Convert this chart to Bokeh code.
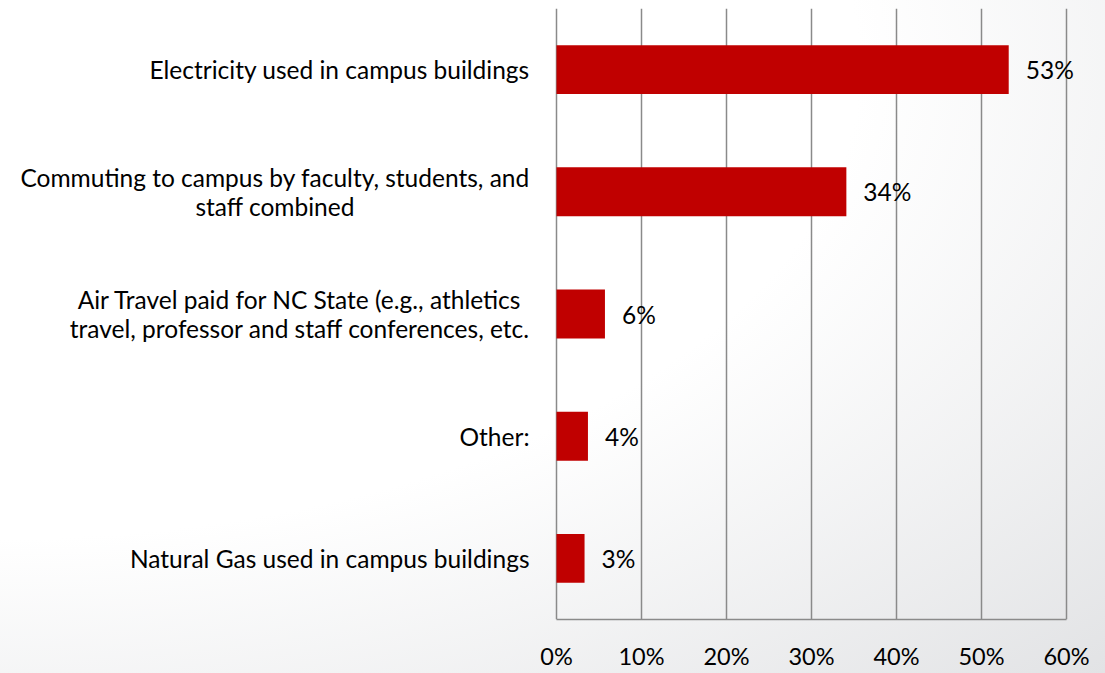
import glob
from bokeh.plotting import figure
from bokeh.models import ColumnDataSource, FactorRange, Range1d, FixedTicker
from bokeh.core.properties import value
from bokeh.embed import file_html
from bokeh.resources import INLINE

categories = [
    "Electricity used in campus buildings",
    "Commuting to campus by faculty, students, and\nstaff combined",
    "Air Travel paid for NC State (e.g., athletics\ntravel, professor and staff conferences, etc.",
    "Other:",
    "Natural Gas used in campus buildings",
]
values = [53.2, 34.1, 5.7, 3.7, 3.3]
value_labels = ["53%", "34%", "6%", "4%", "3%"]
x_ticks = [0, 10, 20, 30, 40, 50, 60]
x_tick_labels = ["0%", "10%", "20%", "30%", "40%", "50%", "60%"]

FONT = "Lato"
FS_PX = 24.5
FS = f"{FS_PX}px"
TICK_FS = "23.5px"
BAR = "#C00000"
GRID = "#8a8a8a"

W, H = 1105, 673
BORDER_R = 2
ZERO_PX = 556          # screen x of the 0% line
LABEL_GAP = 27         # gap between label block and the 0% line
LINE_H = 29            # line spacing of two-line labels

frame_w = W - BORDER_R
x_end = 64.35
scale = (frame_w - ZERO_PX) / x_end        # px per data unit
x_start = -ZERO_PX / scale

# --- text width measurement (for centring lines within right-aligned blocks)
_font = None
try:
    from PIL import ImageFont
    paths = (glob.glob("/usr/share/fonts/**/Lato-Regular.ttf", recursive=True)
             + glob.glob("/usr/local/share/fonts/**/Lato-Regular.ttf", recursive=True))
    if paths:
        _font = ImageFont.truetype(paths[0], 100)
except Exception:
    _font = None


def text_width(s):
    if _font is not None:
        return _font.getlength(s) * FS_PX / 100.0
    return len(s) * 0.5 * FS_PX


lab_cat, lab_text, lab_x, lab_yoff = [], [], [], []
for cat in categories:
    lines = cat.split("\n")
    block_w = max(text_width(s) for s in lines)
    cx = -(LABEL_GAP + block_w / 2.0) / scale
    n = len(lines)
    for i, s in enumerate(lines):
        lab_cat.append(cat)
        lab_text.append(s)
        lab_x.append(cx)
        lab_yoff.append((i - (n - 1) / 2.0) * LINE_H)

src = ColumnDataSource(dict(cat=categories, val=values, lab=value_labels))
lab_src = ColumnDataSource(dict(cat=lab_cat, text=lab_text, x=lab_x, yoff=lab_yoff))

p = figure(
    width=W, height=H,
    y_range=FactorRange(factors=list(reversed(categories)), range_padding=0),
    x_range=Range1d(x_start, x_end),
    output_backend="svg", toolbar_location=None,
    min_border_left=0, min_border_right=BORDER_R, min_border_top=8, min_border_bottom=54,
)
p.styles = {"background": "radial-gradient(ellipse farthest-corner at 0% 10%, #ffffff 55%, #e2e3e5 100%)"}
p.background_fill_color = None
p.border_fill_color = None
p.outline_line_color = None

p.hbar(y="cat", right="val", left=0, height=0.4, source=src,
       fill_color=BAR, line_color=None)
p.text(x="val", y="cat", text="lab", source=src, x_offset=17,
       text_align="left", text_baseline="middle",
       text_font=value(FONT), text_font_size=FS, text_color="#000000")
p.text(x="x", y="cat", text="text", y_offset="yoff", source=lab_src,
       text_align="center", text_baseline="middle",
       text_font=value(FONT), text_font_size=FS, text_color="#000000")

p.xaxis.ticker = FixedTicker(ticks=x_ticks)
p.xaxis.bounds = (x_ticks[0], x_ticks[-1])
p.xaxis.major_label_overrides = {t: s for t, s in zip(x_ticks, x_tick_labels)}
p.xaxis.axis_line_color = GRID
p.xaxis.axis_line_width = 1.5
p.xaxis.major_tick_line_color = None
p.xaxis.minor_tick_line_color = None
p.xaxis.major_tick_out = 0
p.xaxis.major_tick_in = 0
p.xaxis.minor_tick_out = 0
p.xaxis.minor_tick_in = 0
p.xaxis.major_label_standoff = 22
p.xaxis.major_label_text_font = FONT
p.xaxis.major_label_text_font_size = TICK_FS
p.xaxis.major_label_text_color = "#000000"

p.yaxis.visible = False

p.xgrid.ticker = FixedTicker(ticks=x_ticks)
p.xgrid.grid_line_color = GRID
p.xgrid.grid_line_width = 1.5
p.ygrid.grid_line_color = None

open("out.html", "w").write(file_html(p, INLINE))
